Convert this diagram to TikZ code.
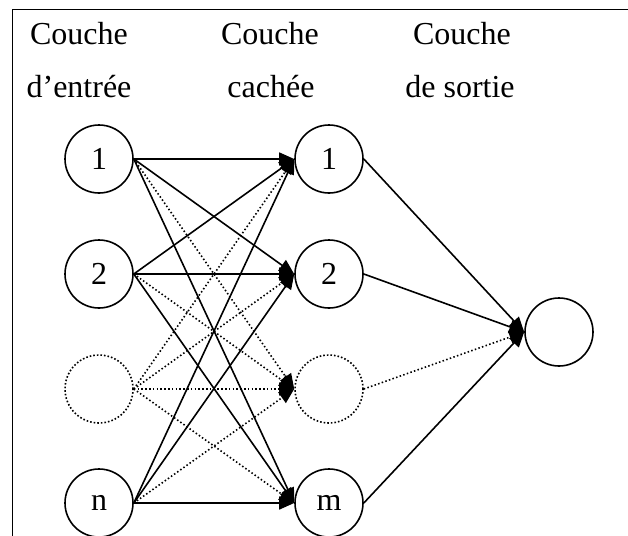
\documentclass[tikz,border=0pt]{standalone}
\usepackage{fontspec}
\setmainfont{Liberation Serif}
\usetikzlibrary{arrows.meta}
\begin{document}
\begin{tikzpicture}[x=1pt,y=-1pt,
  neuron/.style={circle,draw,line width=1.6pt,minimum size=68pt,inner sep=0pt,font=\fontsize{32}{32}\selectfont},
  ghost/.style={neuron,dotted},
  lab/.style={anchor=base,inner sep=0pt,font=\fontsize{32}{32}\selectfont},
  conn/.style={line width=1.6pt,-{Triangle[length=15pt,width=13pt]}},
  dconn/.style={conn,dash pattern=on 1.5pt off 2.3pt}
]
\useasboundingbox (0,0) rectangle (628,535);
\coordinate (fb) at (12.5,540);
\coordinate (ftl) at (12.5,9.5);
\coordinate (ftr) at (635,9.5);
\draw[line width=1.8pt] (fb) -- (ftl) -- (ftr);

\node[lab] (t1a) at (79,45) {Couche};
\node[lab] (t1b) at (79,97) {d’entrée};
\node[lab] (t2a) at (270,45) {Couche};
\node[lab] (t2b) at (271,97) {cachée};
\node[lab] (t3a) at (462,45) {Couche};
\node[lab] (t3b) at (460,97) {de sortie};

\node[neuron] (i1) at (99,159) {1};
\node[neuron] (i2) at (99,274) {2};
\node[ghost] (i3) at (99,389) {};
\node[neuron] (in) at (99,503) {n};

\node[neuron] (h1) at (329,159) {1};
\node[neuron] (h2) at (329,274) {2};
\node[ghost] (h3) at (329,389) {};
\node[neuron] (hm) at (329,503) {m};

\node[neuron] (o) at (559,332) {};

\foreach \s in {i1,i2,in}{
  \draw[conn] (\s.east) -- (h1.west);
  \draw[conn] (\s.east) -- (h2.west);
  \draw[dconn] (\s.east) -- (h3.west);
  \draw[conn] (\s.east) -- (hm.west);
}
\foreach \t in {h1,h2,h3,hm}{
  \draw[dconn] (i3.east) -- (\t.west);
}
\draw[conn] (h1.east) -- (o.west);
\draw[conn] (h2.east) -- (o.west);
\draw[dconn] (h3.east) -- (o.west);
\draw[conn] (hm.east) -- (o.west);
\end{tikzpicture}
\end{document}
